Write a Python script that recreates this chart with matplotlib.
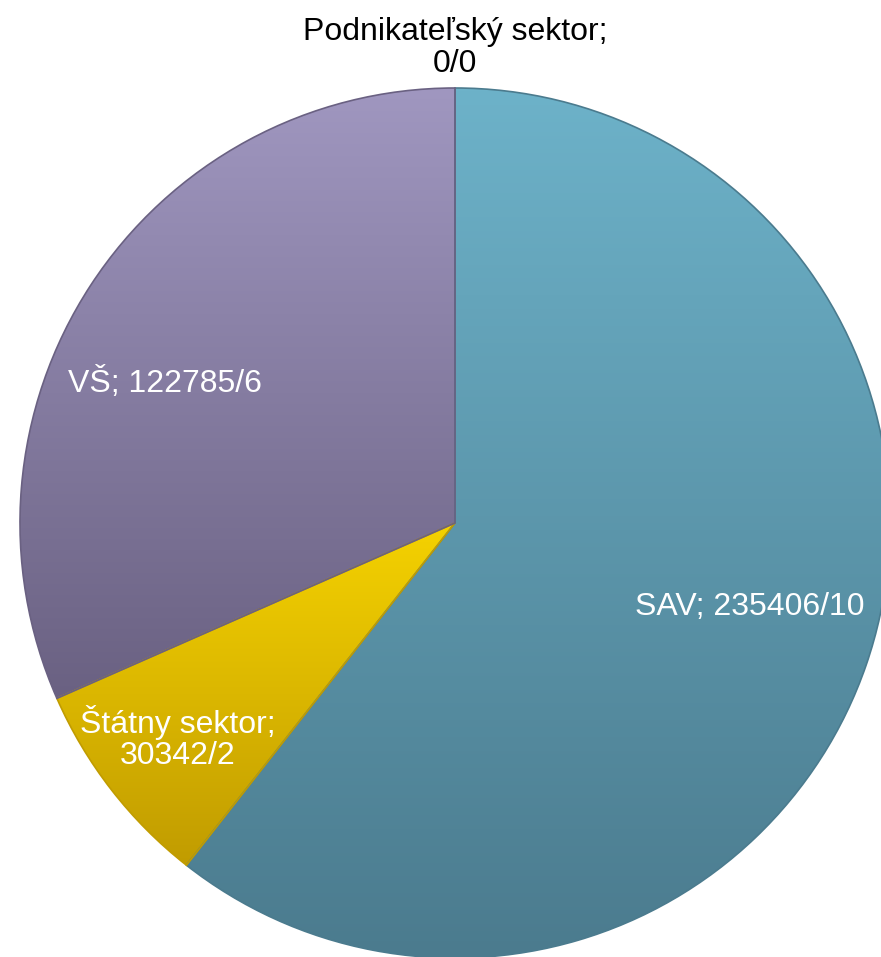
import numpy as np
import matplotlib
matplotlib.use("Agg")
import matplotlib.pyplot as plt
from matplotlib.colors import LinearSegmentedColormap

plt.rcParams['font.family'] = ['Liberation Sans', 'DejaVu Sans']

# data
sectors = ['SAV', 'Štátny sektor', 'VŠ', 'Podnikateľský sektor']
amounts = [235406, 30342, 122785, 0]
counts = [10, 2, 6, 0]

# gradient colours (top, bottom) for each slice
tops = ['#6db2c9', '#f5d200', '#a097c0', '#ffffff']
bottoms = ['#4b7b8e', '#c19c00', '#6a6182', '#ffffff']

W, H = 881, 957
cx, cy, R = 455, 523, 435

fig = plt.figure(figsize=(W / 100, H / 100), dpi=100)
ax = fig.add_axes([0, 0, 1, 1])
ax.set_aspect('equal')
ax.axis('off')

wedges, _ = ax.pie(amounts, startangle=90, counterclock=False, radius=1,
                   colors=tops, wedgeprops=dict(linewidth=0))

# vertical gradient in each wedge
for w, t, b, v in zip(wedges, tops, bottoms, amounts):
    if v == 0:
        continue
    ext = w.get_path().get_extents(w.get_patch_transform())
    cmap = LinearSegmentedColormap.from_list('g', [b, t])
    grad = np.linspace(0, 1, 256).reshape(-1, 1)
    im = ax.imshow(grad, cmap=cmap, origin='lower', aspect='auto',
                   extent=[ext.x0, ext.x1, ext.y0, ext.y1], zorder=1)
    im.set_clip_path(w)
    w.set_facecolor('none')
    w.set_edgecolor(b)
    w.set_linewidth(1.2)
    w.set_zorder(2)

ax.set_xlim(-cx / R, (W - cx) / R)
ax.set_ylim(-(H - cy) / R, cy / R)

def px(x, y):
    return (x - cx) / R, (cy - y) / R

labels = ['%s; %d/%d' % (s, a, c) for s, a, c in zip(sectors, amounts, counts)]

fs = 23
ax.text(*px(750, 607), labels[0], color='white', fontsize=fs, ha='center', va='center', zorder=3)
ax.text(*px(178, 738), labels[1].replace('; ', ';\n'), color='white', fontsize=fs,
        ha='center', va='center', linespacing=1.05, zorder=3)
ax.text(*px(165, 383), labels[2], color='white', fontsize=fs, ha='center', va='center', zorder=3)
ax.text(*px(455, 48), labels[3].replace('; ', ';\n'), color='black', fontsize=fs,
        ha='center', va='center', linespacing=1.05, zorder=3)

fig.savefig('out.png', dpi=100)
